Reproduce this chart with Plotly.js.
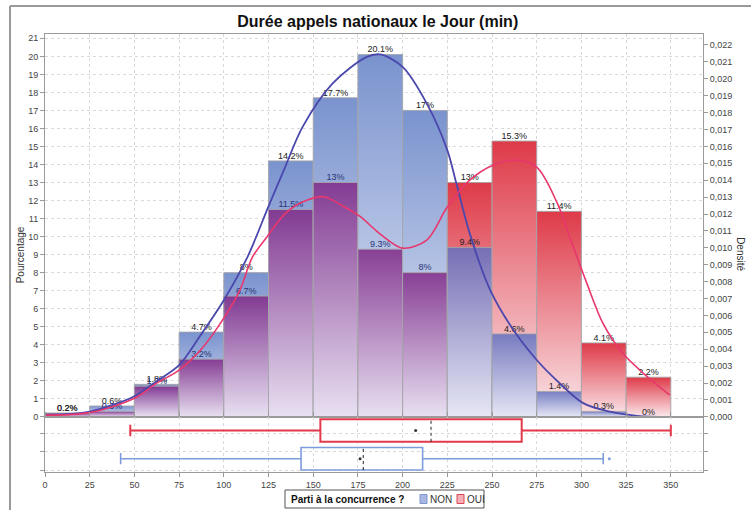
<!DOCTYPE html>
<html><head><meta charset="utf-8">
<script src="https://cdn.plot.ly/plotly-3.0.1.min.js"></script>
<style>html,body{margin:0;padding:0;background:#fff}#chart{width:751px;height:510px}</style>
</head><body><div id="chart"></div>
<script>
// ---- data ----
const binEdges = [0,25,50,75,100,125,150,175,200,225,250,275,300,325,350];
const nonPct = [0.2,0.6,1.8,4.7,8,14.2,17.7,20.1,17,9.4,4.6,1.4,0.3,0];
const ouiPct = [0.2,0.3,1.7,3.2,6.7,11.5,13,9.3,8,13,15.3,11.4,4.1,2.2];

const nonDensX = [0,12,25,37.5,50,62.5,75,87,100,113,125,134,144,161,180,187.5,200,214,225,230,238,249,262,275,286,301,316,331,349.5];
const nonDens  = [0.00013,0.00016,0.00031,0.00069,0.00122,0.00211,0.00306,0.00483,0.0069,0.0094,0.01245,0.0147,0.01714,0.01974,0.0213,0.02144,0.0207,0.01844,0.01578,0.01383,0.01069,0.0075,0.00513,0.00336,0.00217,0.00081,0.0003,0.00006,0];
const ouiDensX = [0,25,50,62.5,75,87,100,109,116,124,135,146,156,166,176,187,200,213.5,225,237.5,250.5,263.5,275,286.5,293.5,303,312,323,334.5,349.5];
const ouiDens  = [0.0001,0.00025,0.0011,0.00199,0.00276,0.00395,0.00584,0.0075,0.00945,0.01063,0.0121,0.0128,0.01302,0.0125,0.01187,0.01086,0.00998,0.01046,0.01241,0.014,0.01489,0.01519,0.01477,0.01264,0.01063,0.00791,0.00554,0.00377,0.00259,0.00128];

const boxNames = ['OUI','NON'];
const boxPos   = [1,0];
const boxLow   = [47.7,42.3];
const boxQ1    = [154,143.2];
const boxMed   = [215.9,178];
const boxMean  = [207.3,176.2];
const boxQ3    = [266.6,211.2];
const boxHigh  = [350,312.2];
const nonOutliers = [315.6];

const legendTitle = 'Parti à la concurrence ?';
const legendNames = ['NON','OUI'];

// ---- styles ----
const FONT = 'Liberation Sans, Arial, sans-serif';
const nonGrad = [[0,'rgb(233,237,248)'],[1,'rgb(122,147,206)']];
const ouiGrad = [[0,'rgb(251,233,236)'],[1,'rgb(222,58,72)']];
const ouiOver = [[0,'rgba(232,222,240,0.85)'],[1,'rgba(128,40,135,0.85)']];
const nonOver = [[0,'rgba(226,230,246,0.85)'],[1,'rgba(98,112,192,0.85)']];
const binLine = {color:'rgba(165,165,170,0.9)', width:1};

const traces = [];
function barPoly(i, v, scale){
  const x0 = binEdges[i], x1 = binEdges[i+1];
  return {type:'scatter', mode:'lines', x:[x0,x0,x1,x1,x0], y:[0,v,v,0,0],
    fill:'toself', fillgradient:{type:'vertical', start:0, stop:v, colorscale:scale},
    line:binLine, hoverinfo:'skip', showlegend:false, xaxis:'x', yaxis:'y'};
}
for (let i=0;i<nonPct.length;i++){
  const n = nonPct[i], o = ouiPct[i];
  if (n >= o){
    if (n>0) traces.push(barPoly(i,n,nonGrad));
    if (o>0) traces.push(barPoly(i,o,ouiOver));
  } else {
    if (o>0) traces.push(barPoly(i,o,ouiGrad));
    if (n>0) traces.push(barPoly(i,n,nonOver));
  }
}
// labels
const mids = nonPct.map((_,i)=>(binEdges[i]+binEdges[i+1])/2);
traces.push({type:'scatter', mode:'text', x:mids, y:nonPct, text:nonPct.map(v=>v+'%'),
  textposition:'top center', textfont:{family:FONT,size:9,color:'#222'},
  hoverinfo:'skip', showlegend:false, xaxis:'x', yaxis:'y'});
traces.push({type:'scatter', mode:'text', x:mids, y:ouiPct, text:ouiPct.map(v=>v+'%'),
  textposition:'top center',
  textfont:{family:FONT,size:9,color:ouiPct.map((v,i)=> v<nonPct[i] ? '#2a3275' : '#222')},
  hoverinfo:'skip', showlegend:false, xaxis:'x', yaxis:'y'});

// density curves
traces.push({type:'scatter', mode:'lines', x:nonDensX, y:nonDens, line:{color:'#4a47ad', width:1.8, shape:'spline', smoothing:0.9},
  hoverinfo:'skip', showlegend:false, xaxis:'x', yaxis:'y2'});
traces.push({type:'scatter', mode:'lines', x:ouiDensX, y:ouiDens, line:{color:'#e8376c', width:1.6, shape:'spline', smoothing:0.9},
  hoverinfo:'skip', showlegend:false, xaxis:'x', yaxis:'y2'});

// box plots
const boxColors = ['#e2394b','#7d9cdc'];
const boxWidths = [2,1.6];
for (let k=0;k<boxNames.length;k++){
  traces.push({type:'box', orientation:'h', y:[boxPos[k]], q1:[boxQ1[k]], median:[boxMed[k]], q3:[boxQ3[k]],
    lowerfence:[boxLow[k]], upperfence:[boxHigh[k]], width:0.8, whiskerwidth:0.5,
    line:{color:boxColors[k], width:boxWidths[k]}, fillcolor:'rgba(255,255,255,0)',
    boxpoints:false, hoverinfo:'skip', showlegend:false, xaxis:'x', yaxis:'y3'});
  traces.push({type:'scatter', mode:'lines', x:[boxMed[k],boxMed[k]], y:[boxPos[k]-0.36,boxPos[k]+0.36],
    line:{color:'#ffffff', width:3}, hoverinfo:'skip', showlegend:false, xaxis:'x', yaxis:'y3'});
  traces.push({type:'scatter', mode:'lines', x:[boxMed[k],boxMed[k]], y:[boxPos[k]-0.4,boxPos[k]+0.4],
    line:{color:'#222', width:1, dash:'dot'}, hoverinfo:'skip', showlegend:false, xaxis:'x', yaxis:'y3'});
  traces.push({type:'scatter', mode:'markers', x:[boxMean[k]], y:[boxPos[k]],
    marker:{color:'#333', size:3}, hoverinfo:'skip', showlegend:false, xaxis:'x', yaxis:'y3'});
}
traces.push({type:'scatter', mode:'markers', x:nonOutliers, y:nonOutliers.map(()=>boxPos[1]),
  marker:{color:'#7d9cdc', size:3}, hoverinfo:'skip', showlegend:false, xaxis:'x', yaxis:'y3'});

const gridC = '#d9d9d9', lineC = '#9a9a9a';
const tickF = {family:FONT, size:9, color:'#444'};
// paper-coordinate helpers for the legend box (pixel layout inside a 751x510 page, plot area 45..703 x 34..472)
const px = v => (v-45)/658, py = v => (472-v)/438;
const layout = {
  width:751, height:510, paper_bgcolor:'#fff', plot_bgcolor:'#fff',
  margin:{l:45, r:48, t:34, b:38, autoexpand:false},
  separators:', ',
  font:{family:FONT},
  showlegend:false,
  title:{text:'<b>Durée appels nationaux le Jour (min)</b>', font:{family:FONT, size:16, color:'#111'},
    x:0.503, xref:'container', y:0.959, yref:'container', yanchor:'middle'},
  xaxis:{range:[0,368], tick0:0, dtick:25, anchor:'y3', showgrid:true, gridcolor:gridC, griddash:'dot',
    zeroline:false, showline:true, linecolor:lineC, mirror:'all', ticks:'outside', ticklen:4, tickcolor:lineC, tickfont:tickF},
  yaxis:{domain:[0.126,1], range:[0,21.24], dtick:1, tick0:0, showgrid:true, gridcolor:gridC, griddash:'dot',
    zeroline:true, zerolinecolor:'#b5b5b5', zerolinewidth:1, showline:true, linecolor:lineC, ticks:'outside', ticklen:4, tickcolor:lineC, tickfont:tickF, anchor:'x'},
  yaxis2:{overlaying:'y', side:'right', anchor:'x', range:[0,0.02265], dtick:0.001, tick0:0, tickformat:'.3f',
    showgrid:false, zeroline:false, showline:true, linecolor:lineC, ticks:'outside', ticklen:4, tickcolor:lineC, tickfont:tickF},
  yaxis3:{domain:[0,0.126], range:[-0.47,1.484], anchor:'x', tickvals:[-0.4,0.254,0.908], showticklabels:false,
    showgrid:true, gridcolor:gridC, griddash:'dot', zeroline:false, showline:true, linecolor:lineC, mirror:'ticks',
    ticks:'outside', ticklen:4, tickcolor:lineC},
  annotations:[
    {text:'Pourcentage', xref:'paper', yref:'paper', x:-0.038, y:0.497, textangle:-90, showarrow:false,
      font:{family:FONT, size:10, color:'#333'}, xanchor:'center', yanchor:'middle'},
    {text:'Densité', xref:'paper', yref:'paper', x:1.058, y:0.497, textangle:90, showarrow:false,
      font:{family:FONT, size:10, color:'#333'}, xanchor:'center', yanchor:'middle'},
    {text:'<b>'+legendTitle+'</b>', xref:'paper', yref:'paper', x:px(289), y:py(499), xanchor:'left', yanchor:'middle',
      showarrow:false, font:{family:FONT, size:10, color:'#111'}},
    {text:legendNames[0], xref:'paper', yref:'paper', x:px(428), y:py(499), xanchor:'left', yanchor:'middle',
      showarrow:false, font:{family:FONT, size:10, color:'#333'}},
    {text:legendNames[1], xref:'paper', yref:'paper', x:px(465), y:py(499), xanchor:'left', yanchor:'middle',
      showarrow:false, font:{family:FONT, size:10, color:'#333'}}
  ],
  shapes:[
    {type:'line', xref:'paper', yref:'paper', x0:-0.0532, x1:1.08, y0:1.0639, y1:1.0639, line:{color:'#9a9a9a', width:2}},
    {type:'line', xref:'paper', yref:'paper', x0:-0.0532, x1:-0.0532, y0:1.0639, y1:-0.1, line:{color:'#9a9a9a', width:2}},
    {type:'rect', xref:'paper', yref:'paper', x0:px(285), x1:px(484), y0:py(508), y1:py(490), line:{color:'#555', width:1}, fillcolor:'#fff'},
    {type:'rect', xref:'paper', yref:'paper', x0:px(420), x1:px(427), y0:py(503.5), y1:py(494.5), line:{color:'#7f96d0', width:1}, fillcolor:'#a7b7e2'},
    {type:'rect', xref:'paper', yref:'paper', x0:px(457), x1:px(464), y0:py(503.5), y1:py(494.5), line:{color:'#dd4452', width:1}, fillcolor:'#f3b0b6'}
  ]
};
Plotly.newPlot('chart', traces, layout, {displayModeBar:false, staticPlot:true});
</script></body></html>
